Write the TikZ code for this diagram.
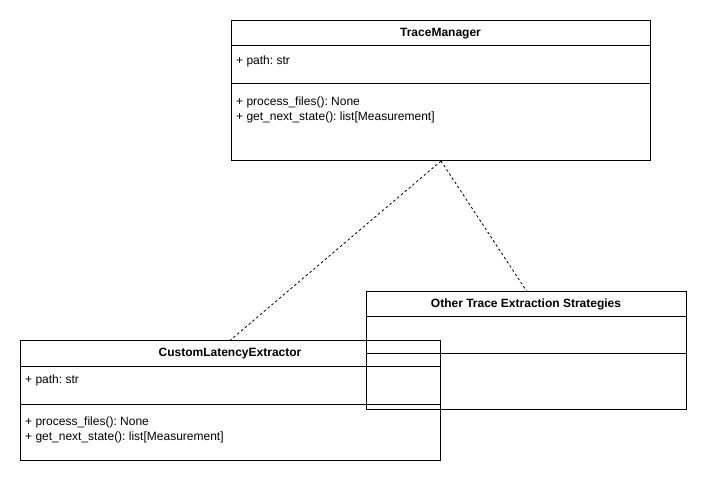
\documentclass[tikz,border=0pt]{standalone}
\usepackage{fontspec}
\setmainfont{Liberation Sans}
\begin{document}
\frenchspacing
\begin{tikzpicture}[x=1pt,y=-1pt,
  classbox/.style={draw=black, line width=1pt, rectangle, inner sep=0pt, anchor=north west},
  title/.style={font=\fontsize{12}{14}\selectfont\bfseries, inner sep=0pt},
  member/.style={font=\fontsize{12}{14.5}\selectfont, inner sep=0pt, anchor=west, align=left},
  sep/.style={line width=1pt},
  assoc/.style={line width=0.8pt, dash pattern=on 2.5pt off 2.5pt}]
\useasboundingbox (0,0) rectangle (706,484);
% TraceManager
\node[classbox, minimum width=419pt, minimum height=140pt] (tm) at (231,20) {};
\coordinate (tmA) at (231,46); \coordinate (tmB) at (650,46);
\coordinate (tmC) at (231,84); \coordinate (tmD) at (650,84);
\draw[sep] (tmA) -- (tmB);
\draw[sep] (tmC) -- (tmD);
\node[title] (tmt) at (440.5,34) {TraceManager};
\node[member] (tma) at (236,61) {+ path: str};
\node[member] (tmm) at (236,110) {+ process\_files(): None\\+ get\_next\_state(): list[Measurement]};
% CustomLatencyExtractor
\node[classbox, minimum width=420pt, minimum height=120pt] (cle) at (20,340) {};
\coordinate (cleA) at (20,366); \coordinate (cleB) at (440,366);
\coordinate (cleC) at (20,404); \coordinate (cleD) at (440,404);
\draw[sep] (cleA) -- (cleB);
\draw[sep] (cleC) -- (cleD);
\node[title] (clet) at (230,354) {CustomLatencyExtractor};
\node[member] (clea) at (25,380) {+ path: str};
\node[member] (clem) at (25,430) {+ process\_files(): None\\+ get\_next\_state(): list[Measurement]};
% Other Trace Extraction Strategies
\node[classbox, minimum width=320pt, minimum height=118pt] (ots) at (366,291) {};
\coordinate (otsA) at (366,316); \coordinate (otsB) at (686,316);
\coordinate (otsC) at (366,353); \coordinate (otsD) at (686,353);
\draw[sep] (otsA) -- (otsB);
\draw[sep] (otsC) -- (otsD);
\node[title] (otst) at (526,304) {Other Trace Extraction Strategies};
% connectors
\draw[assoc] (tm.south) -- (cle.north);
\draw[assoc] (tm.south) -- (ots.north);
\end{tikzpicture}
\end{document}
